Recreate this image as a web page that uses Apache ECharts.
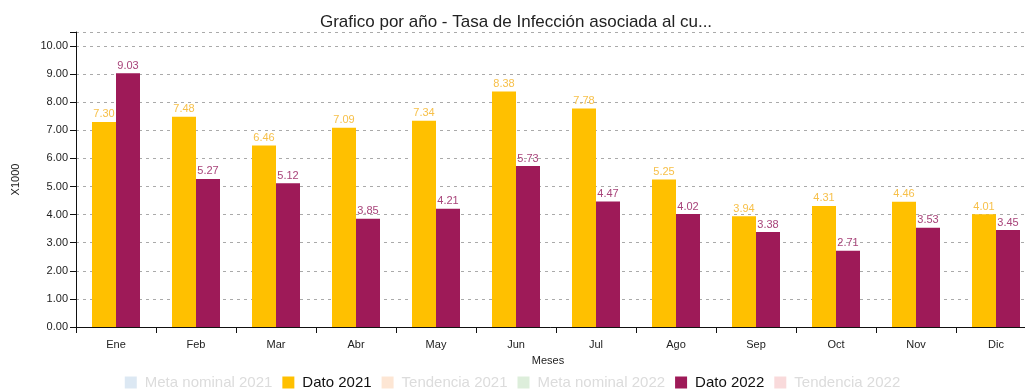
<!DOCTYPE html>
<html>
<head>
<meta charset="utf-8">
<script src="https://cdn.jsdelivr.net/npm/echarts@6/dist/echarts.min.js"></script>
<style>
  html, body { margin: 0; padding: 0; background: #fff; }
  #chart { width: 1025px; height: 389px; }
</style>
</head>
<body>
<div id="chart"></div>
<script>
// Monthly infection rate (per 1000), 2021 vs 2022
const months = ['Ene', 'Feb', 'Mar', 'Abr', 'May', 'Jun', 'Jul', 'Ago', 'Sep', 'Oct', 'Nov', 'Dic'];
const dato2021 = [7.30, 7.48, 6.46, 7.09, 7.34, 8.38, 7.78, 5.25, 3.94, 4.31, 4.46, 4.01];
const dato2022 = [9.03, 5.27, 5.12, 3.85, 4.21, 5.73, 4.47, 4.02, 3.38, 2.71, 3.53, 3.45];
const legendNames = ['Meta nominal 2021', 'Dato 2021', 'Tendencia 2021', 'Meta nominal 2022', 'Dato 2022', 'Tendencia 2022'];

const YELLOW = '#FFC000';
const PURPLE = '#9E1A58';
const FONT = '"Liberation Sans", Arial, sans-serif';

// Faded legend entries for series without data
const faded = {
  'Meta nominal 2021': '#DCE8F3',
  'Tendencia 2021': '#FDE6D4',
  'Meta nominal 2022': '#DDEEDB',
  'Tendencia 2022': '#F9DADB'
};

const legendData = legendNames.map(n => faded[n]
  ? { name: n, itemStyle: { color: faded[n] }, textStyle: { color: '#DCDCDC' } }
  : { name: n, textStyle: { color: '#111' } });

const chart = echarts.init(document.getElementById('chart'), null, { renderer: 'canvas' });

const labelOpt = (color) => ({
  show: true,
  position: 'top',
  distance: 2,
  color: color,
  fontFamily: FONT,
  fontSize: 11,
  formatter: p => p.value.toFixed(2)
});

chart.setOption({
  animation: false,
  textStyle: { fontFamily: FONT },
  title: {
    text: 'Grafico por año - Tasa de Infección asociada al cu...',
    left: 511,
    textAlign: 'center',
    top: 9,
    textStyle: { fontFamily: FONT, fontSize: 17, fontWeight: 'normal', color: '#222' }
  },
  legend: {
    data: legendData,
    top: 370,
    left: 'center',
    itemWidth: 12,
    itemHeight: 12,
    itemGap: 10,
    icon: 'rect',
    textStyle: { fontFamily: FONT, fontSize: 15, padding: [0, 0, 0, 3] },
    selectedMode: false
  },
  // plot area runs past the right edge of the canvas
  grid: {
    left: 76, right: -11, top: 32, bottom: 62,
    containLabel: false,
    outerBoundsMode: 'none'
  },
  xAxis: {
    type: 'category',
    data: months,
    name: 'Meses',
    nameLocation: 'middle',
    nameGap: 28,
    nameTextStyle: { fontFamily: FONT, fontSize: 11, color: '#222', padding: [0, 16, 0, 0] },
    axisLine: { lineStyle: { color: '#111', width: 1 } },
    axisTick: { show: true, length: 6, lineStyle: { color: '#111' } },
    axisLabel: { fontFamily: FONT, fontSize: 11, color: '#222', margin: 12 }
  },
  yAxis: {
    type: 'value',
    min: 0,
    max: 10.5,
    interval: 1,
    name: 'X1000',
    nameLocation: 'middle',
    nameGap: 55,
    nameRotate: 90,
    nameTextStyle: { fontFamily: FONT, fontSize: 11, color: '#222' },
    axisLine: { show: true, lineStyle: { color: '#111', width: 1 } },
    axisTick: { show: true, length: 6, lineStyle: { color: '#111' } },
    axisLabel: {
      fontFamily: FONT, fontSize: 11, color: '#222', margin: 8,
      formatter: v => (v > 10.01 ? '' : v.toFixed(2))
    },
    splitLine: { show: true, lineStyle: { color: '#aaa', type: [3, 4], width: 1 } }
  },
  series: [
    { name: 'Meta nominal 2021', type: 'line', data: [], itemStyle: { color: faded['Meta nominal 2021'] } },
    {
      name: 'Dato 2021', type: 'bar', data: dato2021,
      itemStyle: { color: YELLOW },
      barWidth: 24, barGap: '0%',
      label: labelOpt('#F7C04A')
    },
    { name: 'Tendencia 2021', type: 'line', data: [], itemStyle: { color: faded['Tendencia 2021'] } },
    { name: 'Meta nominal 2022', type: 'line', data: [], itemStyle: { color: faded['Meta nominal 2022'] } },
    {
      name: 'Dato 2022', type: 'bar', data: dato2022,
      itemStyle: { color: PURPLE },
      barWidth: 24, barGap: '0%',
      label: labelOpt('#A8447A')
    },
    { name: 'Tendencia 2022', type: 'line', data: [], itemStyle: { color: faded['Tendencia 2022'] } }
  ]
});
</script>
</body>
</html>
